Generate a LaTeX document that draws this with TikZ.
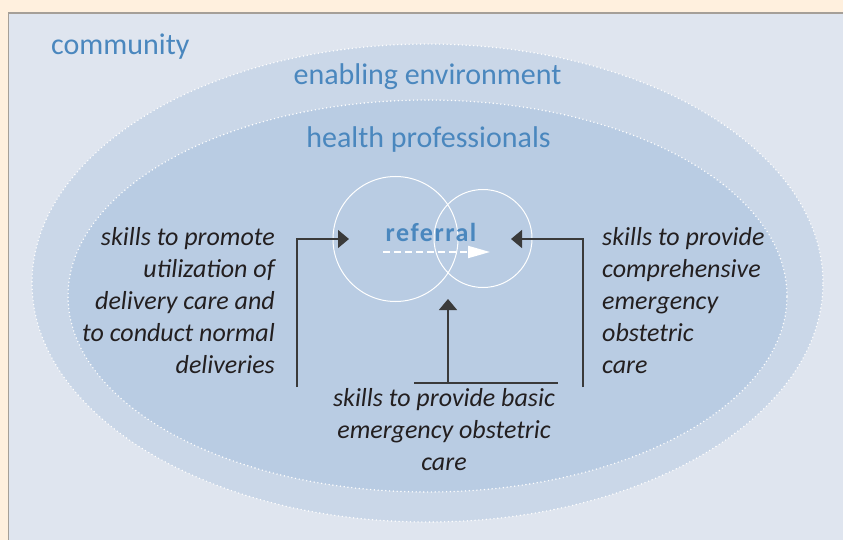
\documentclass[tikz,border=0pt]{standalone}
\usepackage{fontspec}
\setmainfont{Carlito}
\usepackage{xcolor}
\usetikzlibrary{positioning}
\usetikzlibrary{shapes.geometric}
\usetikzlibrary{arrows.meta}
\tikzset{>=latex}
\definecolor{cream}{HTML}{FFF0DE}
\definecolor{commfill}{HTML}{DFE5EF}
\definecolor{envfill}{HTML}{CAD7E8}
\definecolor{proffill}{HTML}{B9CCE3}
\definecolor{labelblue}{HTML}{4A87BE}
\definecolor{boxline}{HTML}{A59F98}
\definecolor{inktext}{HTML}{231F20}
\definecolor{linkline}{HTML}{3A3A3A}

\begin{document}
\begin{tikzpicture}[
            x=1pt, y=-1pt,
            zone/.style={ellipse, draw=white, line width=1.6pt, dash pattern=on 0pt off 3.8pt, line cap=round, inner sep=0pt},
            zonelabel/.style={text=labelblue, font=\fontsize{30}{36}\selectfont, inner sep=0pt},
            skill/.style={text=inktext, font=\fontsize{26}{32}\selectfont\itshape, inner sep=0pt},
            bubble/.style={circle, draw=white, line width=1pt, inner sep=0pt},
            reflabel/.style={text=labelblue, font=\fontsize{26}{30}\selectfont\bfseries\addfontfeatures{LetterSpace=6}, inner sep=0pt},
            link/.style={draw=linkline, line width=1.3pt, -{Triangle[length=11pt,width=18pt]}},
            pass/.style={draw=white, line width=2pt, dash pattern=on 7pt off 4pt, -{Triangle[length=22pt,width=12pt]}}
        ]
        \useasboundingbox (0,0) rectangle (843,540);
        \fill[cream] (0,0) rectangle (843,540);
        \filldraw[fill=commfill, draw=boxline, line width=1.5pt] (8.5,13) rectangle (850,550);
        % nested settings
        \node[zone, fill=envfill, minimum width=791pt, minimum height=478pt] (env) at (427.5,283) {};
        \node[zone, fill=proffill, minimum width=719pt, minimum height=392pt] (prof) at (427.5,296) {};
        \node[zonelabel, anchor=base west] (community) at (51,55) {community};
        \node[zonelabel, anchor=base] (envlabel) at (427.5,85) {enabling environment};
        \node[zonelabel, anchor=base] (proflabel) at (428.5,148) {health professionals};
        % referral between the two levels of care
        \node[bubble, minimum size=125pt] (first) at (395.5,239) {};
        \node[bubble, minimum size=98pt] (second) at (483,238.5) {};
        \node[reflabel, anchor=base] (referral) at (431,241) {referral};
        \coordinate (passfrom) at (383,252);
        \coordinate (passto) at (490,252);
        \draw[pass] (passfrom) -- (passto);
        % skills
        \node[skill, align=right, anchor=north east] (promote) at (275,227) {skills to promote\\utilization of\\delivery care and\\to conduct normal\\deliveries};
        \node[skill, align=left, anchor=north west] (comprehensive) at (602,227) {skills to provide\\comprehensive\\emergency\\obstetric\\care};
        \node[skill, align=center, anchor=north] (basic) at (444,388) {skills to provide basic\\emergency obstetric\\care};
        \coordinate (leftfoot) at (297,387);
        \coordinate (lefttip) at (349,239);
        \coordinate (rightfoot) at (583,387);
        \coordinate (righttip) at (511,239);
        \coordinate (barleft) at (414,383);
        \coordinate (barright) at (558,383);
        \coordinate (barmid) at (448,383);
        \coordinate (bottomtip) at (448,299);
        \draw[link] (leftfoot) |- (lefttip);
        \draw[link] (rightfoot) |- (righttip);
        \draw[draw=linkline, line width=1.3pt] (barleft) -- (barright);
        \draw[link] (barmid) -- (bottomtip);
\end{tikzpicture}
\end{document}
